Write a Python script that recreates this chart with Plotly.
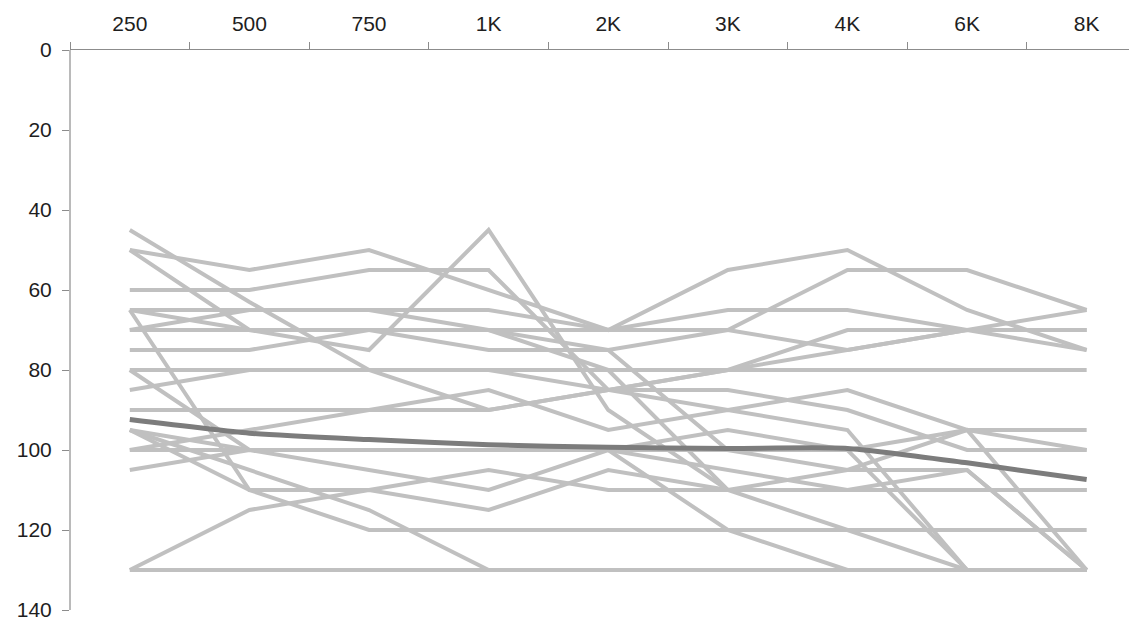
import plotly.graph_objects as go

# Audiogram frequencies (Hz) and thresholds (dB HL) for each subject
freqs = ["250", "500", "750", "1K", "2K", "3K", "4K", "6K", "8K"]

subj_a = [45, 63, 80, 90, 85, 80, 70, 70, 70]
subj_b = [50, 55, 50, 60, 70, 55, 50, 65, 75]
subj_c = [50, 70, 75, 45, 90, 110, 120, 120, 120]
subj_d = [60, 60, 55, 55, 85, 90, 85, 95, 95]
subj_e = [65, 65, 65, 70, 75, 70, 55, 55, 65]
subj_f = [65, 110, 120, 120, 120, 120, 120, 130, 130]
subj_g = [65, 70, 70, 70, 70, 70, 75, 70, 75]
subj_h = [70, 65, 65, 65, 70, 65, 65, 70, 65]
subj_i = [70, 70, 70, 75, 75, 100, 105, 95, 100]
subj_j = [75, 75, 70, 70, 80, 80, 80, 80, 80]
subj_k = [80, 80, 80, 80, 80, 110, 110, 105, 130]
subj_l = [80, 100, 100, 100, 100, 120, 130, 130, 130]
subj_m = [85, 80, 80, 80, 85, 85, 90, 100, 100]
subj_n = [90, 90, 90, 85, 95, 90, 95, 130, 130]
subj_o = [95, 110, 110, 105, 110, 110, 110, 110, 110]
subj_p = [95, 100, 100, 100, 100, 95, 100, 130, 130]
subj_q = [95, 105, 115, 130, 130, 130, 130, 130, 130]
subj_r = [100, 95, 90, 90, 85, 80, 75, 70, 70]
subj_s = [100, 100, 100, 100, 100, 100, 100, 95, 130]
subj_t = [105, 100, 105, 110, 100, 105, 110, 110, 110]
subj_u = [130, 115, 110, 115, 105, 110, 105, 105, 130]
subj_v = [130, 130, 130, 130, 130, 130, 130, 130, 130]

subjects = [subj_a, subj_b, subj_c, subj_d, subj_e, subj_f, subj_g, subj_h,
            subj_i, subj_j, subj_k, subj_l, subj_m, subj_n, subj_o, subj_p,
            subj_q, subj_r, subj_s, subj_t, subj_u, subj_v]

# Group mean threshold
mean_thr = [92.4, 95.8, 97.4, 98.7, 99.3, 99.6, 99.6, 103.2, 107.4]

y_ticks = [0, 20, 40, 60, 80, 100, 120, 140]

xpos = list(range(len(freqs)))

fig = go.Figure()
for vals in subjects:
    fig.add_trace(go.Scatter(
        x=xpos, y=vals, mode="lines",
        line=dict(color="#c0c0c0", width=4),
        hoverinfo="skip", showlegend=False,
    ))

fig.add_trace(go.Scatter(
    x=xpos, y=mean_thr, mode="lines",
    line=dict(color="#7c7c7c", width=5, shape="spline", smoothing=0.6),
    showlegend=False,
))

axis_col = "#8c8c8c"
font_col = "#1e1e1e"

# vertical value axis drawn as a shape so it stops at 140
fig.add_shape(type="line", xref="paper", yref="y", x0=0, x1=0,
              y0=0, y1=140, line=dict(color=axis_col, width=1.2), layer="above")

fig.update_layout(
    width=1129, height=621,
    margin=dict(l=70, r=0, t=50, b=0),
    paper_bgcolor="white", plot_bgcolor="white",
    font=dict(family="Liberation Sans, Arial, sans-serif", size=21, color=font_col),
    xaxis=dict(
        side="top", range=[-0.5, 8.354],
        tickmode="array", tickvals=xpos, ticktext=freqs,
        ticks="", showgrid=False, zeroline=False,
        showline=True, linecolor=axis_col, linewidth=1.2,
        ticklabelstandoff=10, ticklabeloverflow="allow",
        minor=dict(tickmode="array", tickvals=[k - 0.5 for k in range(10)],
                   ticks="outside", ticklen=7, tickcolor=axis_col, tickwidth=1.2,
                   showgrid=False),
    ),
    yaxis=dict(
        range=[142, 0], tickmode="array", tickvals=y_ticks,
        ticks="outside", ticklen=7, tickcolor=axis_col, tickwidth=1.2,
        showgrid=False, zeroline=False, showline=False,
        ticklabelstandoff=6, ticklabeloverflow="allow",
    ),
)

fig.write_html("out.html")
